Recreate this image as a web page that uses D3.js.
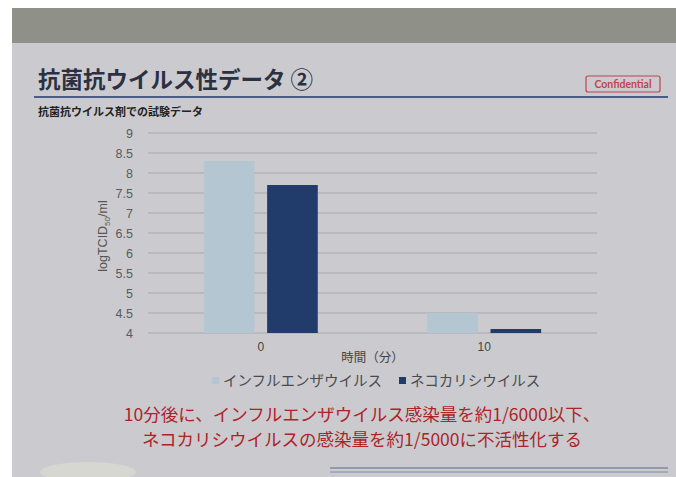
<!DOCTYPE html>
<html>
<head>
<meta charset="utf-8">
<script src="https://cdn.jsdelivr.net/npm/d3@7"></script>
<style>
  body { margin: 0; background: #fff; }
  svg { display: block; font-family: "Noto Sans CJK JP", "Noto Sans", sans-serif; }
</style>
</head>
<body>
<div id="viz"></div>
<script>
// data
var times = ["0", "10"];
var series = ["インフルエンザウイルス", "ネコカリシウイルス"];
var influenza = [8.3, 4.5];
var calici = [7.7, 4.1];
var yTicks = [4, 4.5, 5, 5.5, 6, 6.5, 7, 7.5, 8, 8.5, 9];
var colors = ["#b3c6d1", "#213b6b"];

var w = 676, h = 477;
var svg = d3.select("#viz").append("svg")
  .attr("width", w)
  .attr("height", h);

// photo backdrop: dark band at top, grey slide
svg.append("rect").attr("x", 0).attr("y", 0).attr("width", w).attr("height", h).attr("fill", "#fff");
svg.append("rect").attr("x", 12).attr("y", 8).attr("width", w - 12).attr("height", 36).attr("fill", "#8f9087");
svg.append("rect").attr("x", 12).attr("y", 43).attr("width", w - 12).attr("height", h - 43).attr("fill", "#cbcbcf");
svg.append("ellipse").attr("cx", 88).attr("cy", 472).attr("rx", 48).attr("ry", 10).attr("fill", "#d5d7d0");

// slide header
svg.append("text").attr("x", 38).attr("y", 88)
  .attr("font-size", 22.5).attr("font-weight", "bold").attr("fill", "#2b3142")
  .text("抗菌抗ウイルス性データ ②");
svg.append("line").attr("x1", 34).attr("x2", 668).attr("y1", 97).attr("y2", 97)
  .attr("stroke", "#4c5c84").attr("stroke-width", 2);
svg.append("rect").attr("x", 586).attr("y", 76).attr("width", 74).attr("height", 16).attr("rx", 2)
  .attr("fill", "none").attr("stroke", "#c0444c").attr("stroke-width", 1.2);
svg.append("text").attr("x", 623).attr("y", 88).attr("text-anchor", "middle")
  .attr("font-size", 10.5).attr("font-weight", "bold").attr("fill", "#c0444c")
  .attr("font-family", "Lato, 'Noto Sans', sans-serif")
  .text("Confidential");
svg.append("text").attr("x", 38).attr("y", 116)
  .attr("font-size", 11).attr("font-weight", "bold").attr("fill", "#222")
  .text("抗菌抗ウイルス剤での試験データ");

// chart
var margin = {left: 148, right: 597, top: 133, bottom: 333};
var y = d3.scaleLinear().domain([4, 9]).range([margin.bottom, margin.top]);
var x0 = d3.scaleBand().domain(times).range([margin.left, margin.right]).paddingInner(0.49).paddingOuter(0.25);
var x1 = d3.scaleBand().domain(d3.range(series.length)).range([0, x0.bandwidth()]).paddingInner(0.2);

var g = svg.append("g");
g.selectAll("line.grid").data(yTicks).enter().append("line")
  .attr("x1", margin.left).attr("x2", margin.right)
  .attr("y1", function(d) { return y(d); }).attr("y2", function(d) { return y(d); })
  .attr("stroke", "#a9a9ad").attr("stroke-width", 1);

var yAxis = g.append("g").attr("transform", "translate(" + (margin.left - 12) + ",0)")
  .call(d3.axisLeft(y).tickValues(yTicks).tickSize(0).tickFormat(d3.format("")));
yAxis.select(".domain").remove();
yAxis.selectAll("text").attr("font-size", 12.5).attr("fill", "#5a5a5e")
  .attr("font-family", "Arial, 'Liberation Sans', sans-serif");

var allVals = [influenza, calici];
times.forEach(function(t, i) {
  g.selectAll(null).data(allVals).enter().append("rect")
    .attr("x", function(d, s) { return x0(t) + x1(s); })
    .attr("width", x1.bandwidth())
    .attr("y", function(d) { return y(d[i]); })
    .attr("height", function(d) { return y(4) - y(d[i]); })
    .attr("fill", function(d, s) { return colors[s]; });
});

var xAxis = g.append("g").attr("transform", "translate(0," + (margin.bottom + 6) + ")")
  .call(d3.axisBottom(x0).tickSize(0));
xAxis.select(".domain").remove();
xAxis.selectAll("text").attr("font-size", 12).attr("fill", "#444")
  .attr("font-family", "Arial, 'Liberation Sans', sans-serif");

svg.append("text").attr("x", (margin.left + margin.right) / 2).attr("y", 362)
  .attr("text-anchor", "middle").attr("font-size", 12.5).attr("fill", "#444")
  .text("時間（分）");

var yl = svg.append("text").attr("transform", "translate(107,236) rotate(-90)")
  .attr("text-anchor", "middle").attr("font-size", 12.5).attr("fill", "#555")
  .attr("font-family", "Arial, 'Liberation Sans', sans-serif");
yl.append("tspan").text("logTCID");
yl.append("tspan").attr("font-size", 8).attr("dy", 3).text("50");
yl.append("tspan").attr("dy", -3).text("/ml");

// legend
var legX = [212, 399];
series.forEach(function(s, i) {
  svg.append("rect").attr("x", legX[i]).attr("y", 377).attr("width", 7).attr("height", 7).attr("fill", colors[i]);
  svg.append("text").attr("x", legX[i] + 11).attr("y", 386)
    .attr("font-size", 14.5).attr("fill", "#4a4a4e").text(s);
});

// red note
var note = ["10分後に、インフルエンザウイルス感染量を約1/6000以下、",
            "ネコカリシウイルスの感染量を約1/5000に不活性化する"];
svg.selectAll("text.note").data(note).enter().append("text")
  .attr("class", "note")
  .attr("x", 362).attr("y", function(d, i) { return 421 + i * 25; })
  .attr("text-anchor", "middle").attr("font-size", 17.5).attr("fill", "#ad2328")
  .text(function(d) { return d; });

// footer lines
svg.append("line").attr("x1", 330).attr("x2", 668).attr("y1", 468).attr("y2", 468).attr("stroke", "#5a6a90").attr("stroke-width", 1.2);
svg.append("line").attr("x1", 330).attr("x2", 668).attr("y1", 472).attr("y2", 472).attr("stroke", "#7f8aa6").attr("stroke-width", 1);
</script>
</body>
</html>
